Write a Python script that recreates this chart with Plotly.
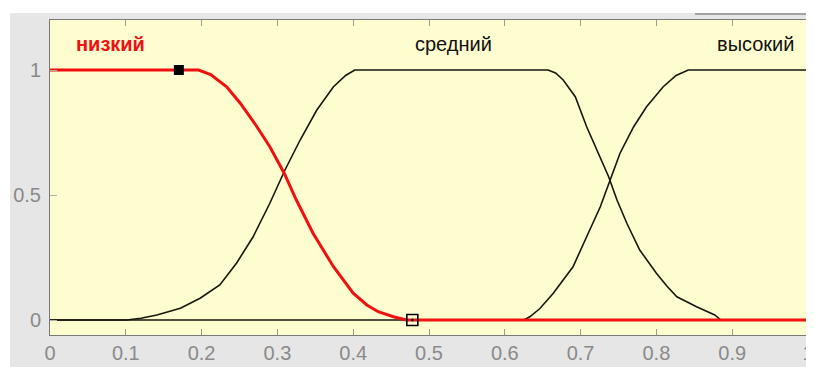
import plotly.graph_objects as go

# ---- data ----
low_x = [0, 0.196, 0.212, 0.233, 0.251, 0.273, 0.290, 0.309, 0.325, 0.347, 0.374, 0.400, 0.418, 0.433, 0.453, 0.47, 1.0]
low_y = [1, 1, 0.982, 0.933, 0.867, 0.773, 0.693, 0.587, 0.48, 0.347, 0.213, 0.107, 0.06, 0.033, 0.013, 0, 0]

mid_x = [0, 0.101, 0.12, 0.141, 0.172, 0.198, 0.224, 0.246, 0.268, 0.290, 0.310, 0.330, 0.352, 0.374, 0.39, 0.402,
         0.657, 0.667, 0.677, 0.693, 0.708, 0.723, 0.737, 0.748, 0.761, 0.778, 0.800, 0.814, 0.827, 0.853, 0.877, 0.885, 1.0]
mid_y = [0, 0, 0.007, 0.02, 0.047, 0.087, 0.14, 0.227, 0.333, 0.467, 0.6, 0.72, 0.84, 0.933, 0.978, 1,
         1, 0.988, 0.96, 0.893, 0.773, 0.667, 0.573, 0.48, 0.387, 0.28, 0.187, 0.135, 0.093, 0.053, 0.02, 0, 0]

high_x = [0, 0.625, 0.633, 0.646, 0.664, 0.690, 0.708, 0.726, 0.739, 0.752, 0.770, 0.787, 0.809, 0.826, 0.842, 1.0]
high_y = [0, 0, 0.013, 0.045, 0.107, 0.213, 0.333, 0.453, 0.56, 0.667, 0.773, 0.853, 0.933, 0.978, 1, 1]

mf_names = ["низкий", "средний", "высокий"]
name_x = [0.08, 0.532, 0.931]
name_y = [1.105, 1.105, 1.105]

handle_filled_x = [0.17]
handle_filled_y = [1]
handle_open_x = [0.478]
handle_open_y = [0]

x_ticks = [0, 0.1, 0.2, 0.3, 0.4, 0.5, 0.6, 0.7, 0.8, 0.9, 1]
x_tick_labels = ["0", "0.1", "0.2", "0.3", "0.4", "0.5", "0.6", "0.7", "0.8", "0.9", "1"]
y_ticks = [0, 0.5, 1]
y_tick_labels = ["0", "0.5", "1"]

# the page body adds an 8px margin, so the figure is 8px smaller in each direction
OFF = 8
W, H = 814 - OFF, 367 - OFF
L, R, T, B = 50 - OFF, 6, 20 - OFF, 32
pw, ph = W - L - R, H - T - B

fig = go.Figure()
black = "#16160c"
fig.add_trace(go.Scatter(x=mid_x, y=mid_y, mode="lines", line=dict(color=black, width=1.6)))
fig.add_trace(go.Scatter(x=high_x, y=high_y, mode="lines", line=dict(color=black, width=1.6)))
fig.add_trace(go.Scatter(x=low_x, y=low_y, mode="lines", line=dict(color="#f01010", width=3)))
fig.add_trace(go.Scatter(x=handle_filled_x, y=handle_filled_y, mode="markers",
                         marker=dict(symbol="square", size=10, color="black")))
fig.add_trace(go.Scatter(x=handle_open_x, y=handle_open_y, mode="markers",
                         marker=dict(symbol="square-open-dot", size=11, color="black",
                                     line=dict(width=1.6, color="black"))))

colors = ["#f01010", "#111111", "#111111"]
for i, nm in enumerate(mf_names):
    fig.add_annotation(x=name_x[i], y=name_y[i], text=("<b>%s</b>" % nm) if i == 0 else nm,
                       showarrow=False, xanchor="center", yanchor="middle",
                       font=dict(family="Liberation Sans, Arial", size=20, color=colors[i]))

def px2px(xp):
    return (xp - OFF - L) / pw

def py2py(yp):
    return (H - B - (yp - OFF)) / ph

shapes = [
    dict(type="rect", xref="paper", yref="paper", x0=px2px(10), x1=px2px(808), y0=py2py(367), y1=py2py(13),
         fillcolor="#e6e6e6", line=dict(width=0), layer="below"),
    dict(type="rect", xref="paper", yref="paper", x0=0, x1=1, y0=0, y1=1,
         fillcolor="#fefdd0", line=dict(width=0), layer="below"),
    dict(type="line", xref="paper", yref="paper", x0=px2px(695), x1=px2px(807), y0=py2py(14), y1=py2py(14),
         line=dict(color="#8c8c8c", width=1.5)),
]

fig.update_layout(
    width=W, height=H,
    margin=dict(l=L, r=R, t=T, b=B, autoexpand=False),
    paper_bgcolor="white", plot_bgcolor="rgba(0,0,0,0)",
    showlegend=False, shapes=shapes,
    font=dict(family="Liberation Sans, Arial", size=20, color="#8a8a8a"),
)
fig.update_xaxes(range=[0, 1], tickvals=x_ticks, ticktext=x_tick_labels, ticks="inside", ticklen=6,
                 tickcolor="#9a9a9a", showgrid=False, zeroline=False, showline=True, linecolor="#7a7a7a",
                 linewidth=1, mirror="ticks", tickfont=dict(size=20, color="#8a8a8a"), ticklabelstandoff=0,
                 ticklabeloverflow="allow", automargin=False)
fig.update_yaxes(range=[-0.06, 1.2], tickvals=y_ticks, ticktext=y_tick_labels, ticks="inside", ticklen=7,
                 tickcolor="#b0b0a0", showgrid=False,
                 zeroline=False, showline=True, linecolor="#7a7a7a", linewidth=1, mirror=True,
                 tickfont=dict(size=20, color="#8a8a8a"), ticklabelstandoff=4, automargin=False)

fig.write_html("out.html")
